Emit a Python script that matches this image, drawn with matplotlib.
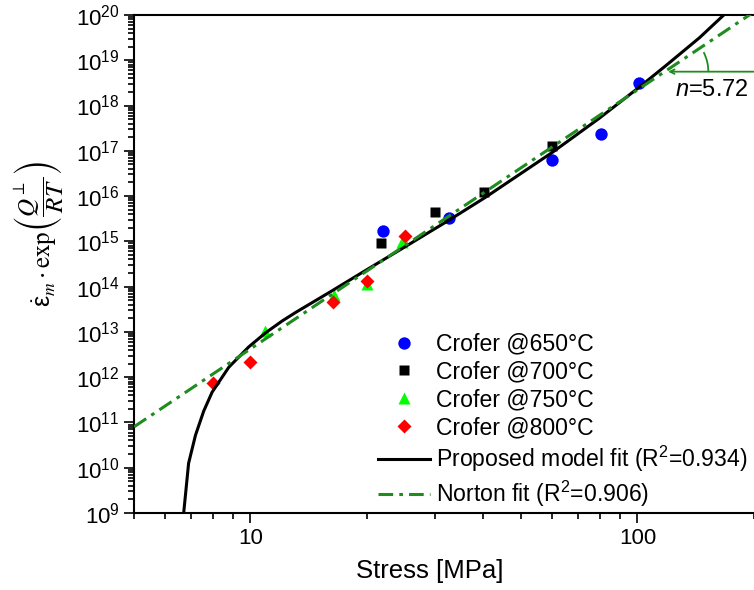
import numpy as np
import matplotlib
matplotlib.use("Agg")
import matplotlib.pyplot as plt
from matplotlib import transforms
from matplotlib.patches import Arc
from matplotlib.ticker import LogLocator, NullFormatter, FuncFormatter, FixedLocator

plt.rcParams['font.family'] = ['Liberation Sans', 'DejaVu Sans']
plt.rcParams['mathtext.fontset'] = 'custom'
plt.rcParams['mathtext.rm'] = 'Liberation Sans'
plt.rcParams['mathtext.it'] = 'Liberation Sans:italic'
plt.rcParams['mathtext.default'] = 'regular'

# measured points, stress [MPa] vs. temperature compensated creep rate
s650 = [22, 32.6, 60.3, 80.5, 100.6]
r650 = [1.69e15, 3.3e15, 6.3e16, 2.4e17, 3.2e18]
s700 = [21.7, 30, 40.2, 60]
r700 = [9.1e14, 4.4e15, 1.21e16, 1.28e17]
s750 = [10.9, 16.4, 20, 24.6]
r750 = [1.05e13, 6.5e13, 1.14e14, 9.8e14]
s800 = [8, 10, 16.3, 20, 25.1]
r800 = [7.3e11, 2.13e12, 4.6e13, 1.33e14, 1.33e15]

# proposed model fit
model_s = [6.72, 6.92, 7.21, 7.57, 7.96, 8.79, 9.90, 10.94, 12.07, 13.08, 16.26,
           19.85, 24.20, 32.61, 40.42, 60.35, 79.71, 101.2, 118.7, 144.7, 164.7, 169.5]
model_r = [1.0e9, 1.26e10, 5.25e10, 1.78e11, 4.68e11, 1.66e12, 4.68e12, 9.55e12,
           1.74e13, 2.69e13, 8.13e13, 2.29e14, 6.31e14, 2.95e15, 9.33e15, 9.33e16,
           5.25e17, 2.57e18, 7.76e18, 3.16e19, 8.91e19, 1.12e20]

# Norton fit (straight line in log-log), end points
norton_s = [5, 200]
norton_r = [8.0e10, 1.17e20]
n_label = "5.72"
x_major = [10, 100]

fig = plt.figure(figsize=(7.54, 5.9), dpi=100)
ax = fig.add_axes([0.1777, 0.1305, 0.8223, 0.8441])

dkgreen = '#1e8c1e'
ax.plot(s650, r650, 'o', color='#0000ff', ms=8.9, mec='none', label='Crofer @650°C', zorder=3)
ax.plot(s700, r700, 's', color='black', ms=7.2, mec='none', label='Crofer @700°C', zorder=3)
ax.plot(s750, r750, '^', color='#00ff00', ms=8.4, mec='none', label='Crofer @750°C', zorder=3)
ax.plot(s800, r800, 'D', color='#ff0000', ms=7.6, mec='none', label='Crofer @800°C', zorder=3)
ax.plot(model_s, model_r, '-', color='black', lw=2.2,
        label='Proposed model fit (R$^2$=0.934)', zorder=4)
ax.plot(norton_s, norton_r, color=dkgreen, lw=2.2, dashes=(4.8, 2.0, 1.2, 2.0),
        label='Norton fit (R$^2$=0.906)', zorder=5)

ax.set_xscale('log')
ax.set_yscale('log')
ax.set_xlim(5, 200)
ax.set_ylim(1e9, 1e20)
ax.yaxis.set_major_locator(LogLocator(base=10, numticks=20))
ax.yaxis.set_minor_locator(LogLocator(base=10, subs=np.arange(2, 10), numticks=200))
ax.yaxis.set_minor_formatter(NullFormatter())
ax.xaxis.set_major_locator(FixedLocator(x_major))
ax.xaxis.set_major_formatter(FuncFormatter(lambda v, p: '%g' % v))
ax.xaxis.set_minor_formatter(NullFormatter())

ax.spines['right'].set_visible(False)
for sp in ['left', 'bottom', 'top']:
    ax.spines[sp].set_linewidth(1.5)
ax.tick_params(which='both', direction='out', top=False, right=False, labelsize=16, width=1.2)
ax.tick_params(which='major', length=7)
ax.tick_params(which='minor', length=4)

ax.set_xlabel('Stress [MPa]', fontsize=18.5)
ax.xaxis.set_label_coords(0.477, -0.093)
ax.set_ylabel(r'$\dot{\varepsilon}_{\mathit{m}}\cdot\mathrm{exp}\left(\dfrac{\mathit{Q}^{\perp}}{\mathit{RT}}\right)$',
              fontsize=18, math_fontfamily='stix')
ax.yaxis.set_label_coords(-0.11, 0.56)

# slope annotation
y_n = 5.6e18
ax.annotate('', xy=(118, y_n), xytext=(205, y_n),
            arrowprops=dict(arrowstyle='->', color=dkgreen, lw=1.3, mutation_scale=8),
            annotation_clip=False)
arc_tr = fig.dpi_scale_trans + transforms.ScaledTranslation(118, y_n, ax.transData)
ax.add_patch(Arc((0, 0), 0.86, 0.86, theta1=0, theta2=27, transform=arc_tr,
                 color=dkgreen, lw=1.3))
ax.text(155, 2.2e18, r'$\mathit{n}$=' + n_label, fontsize=17, ha='center', va='center')

ax.legend(loc='upper left', bbox_to_anchor=(0.394, 0.362), frameon=False, fontsize=16.6,
          borderpad=0, borderaxespad=0, handlelength=2.25, handletextpad=0.25,
          labelspacing=0.21)

fig.savefig('out.png', dpi=100)
